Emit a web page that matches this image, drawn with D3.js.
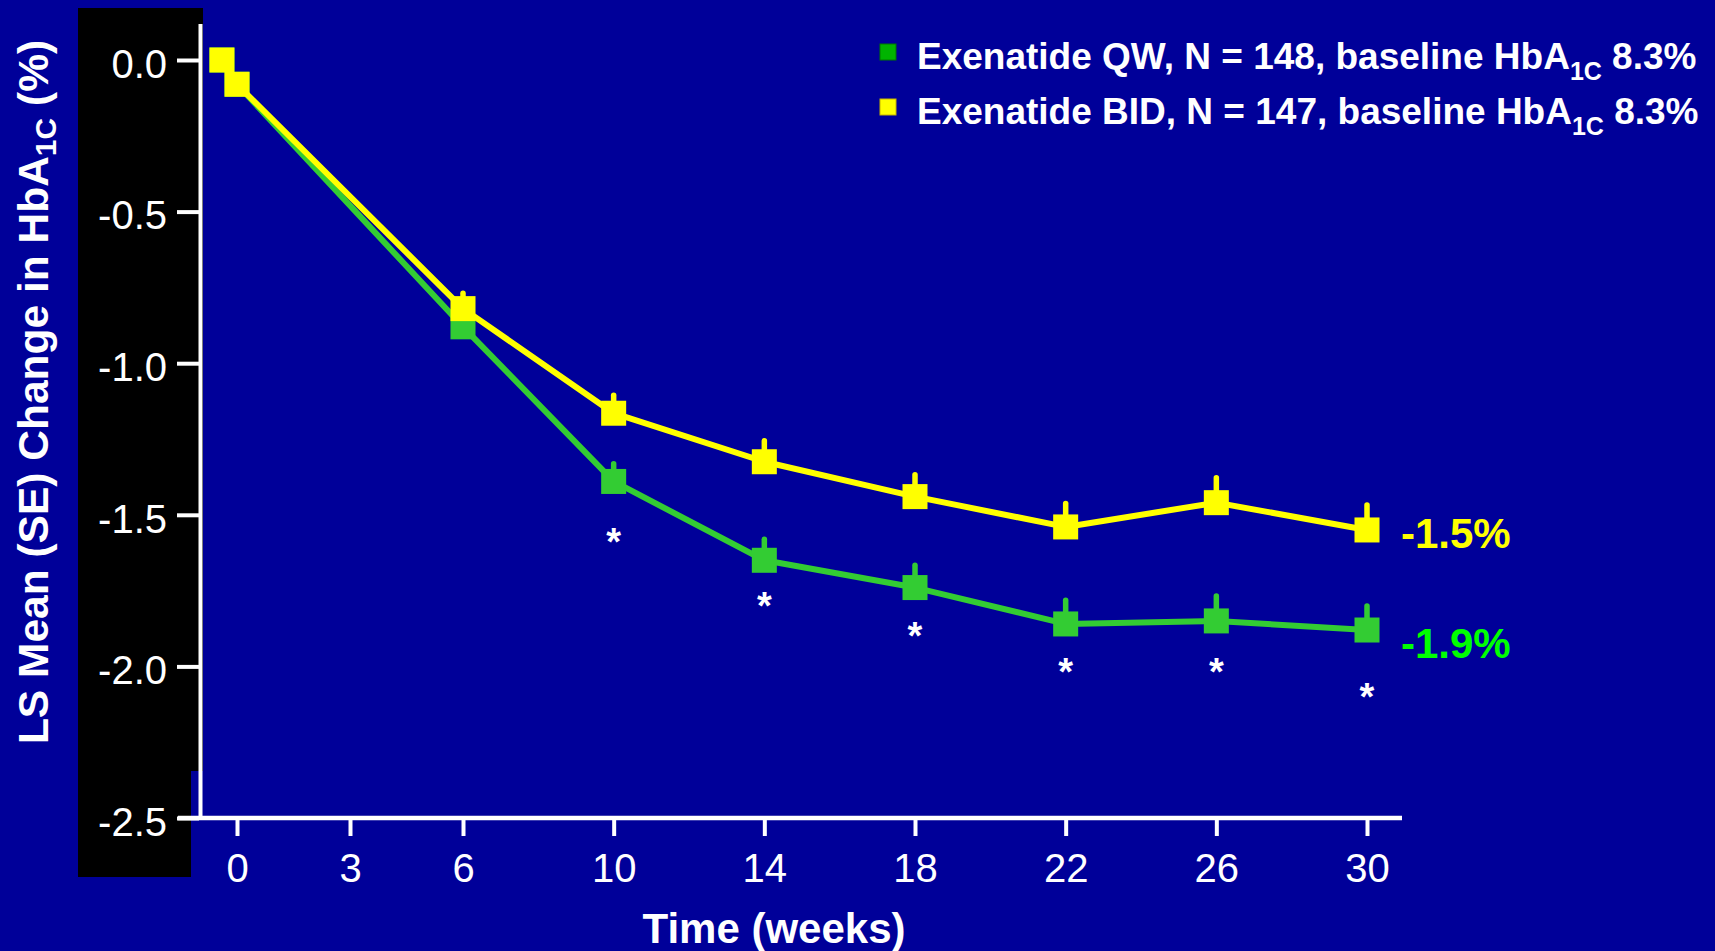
<!DOCTYPE html>
<html>
<head>
<meta charset="utf-8">
<script src="https://cdn.jsdelivr.net/npm/d3@7"></script>
<style>
  body { margin: 0; background: #000099; }
  svg text { font-family: "Liberation Sans", Arial, Helvetica, sans-serif; }
</style>
</head>
<body>
<div id="chart"></div>
<script>
// Weeks at which HbA1c was measured (first point is the baseline marker)
const weeks = [-0.4, 0, 6, 10, 14, 18, 22, 26, 30];
// Exenatide QW (green)
const qwMean = [0, -0.08, -0.88, -1.39, -1.65, -1.74, -1.86, -1.85, -1.88];
const qwSE = [0, 0, 0.05, 0.058, 0.069, 0.074, 0.078, 0.082, 0.079];
// Exenatide BID (yellow)
const bidMean = [0, -0.08, -0.82, -1.165, -1.325, -1.44, -1.54, -1.46, -1.55];
const bidSE = [0, 0, 0.051, 0.059, 0.069, 0.072, 0.077, 0.082, 0.082];
// Significance asterisks (week, level on the y scale)
const starWeeks = [10, 14, 18, 22, 26, 30];
const starLevels = [-1.56, -1.77, -1.87, -1.99, -1.99, -2.07];
// Axes
const xTicks = [0, 3, 6, 10, 14, 18, 22, 26, 30];
const yTicks = [0, -0.5, -1.0, -1.5, -2.0, -2.5];
const endLabels = ['-1.9%', '-1.5%'];
const legendNames = ['Exenatide QW, N = 148, baseline HbA', 'Exenatide BID, N = 147, baseline HbA'];

class LineChart {
    constructor(_config) {
        this.config = {
            parentElement: _config.parentElement,
            containerWidth: _config.containerWidth,
            containerHeight: _config.containerHeight,
            squareSize: 25,
        };
        this.series = [
            { mean: qwMean, se: qwSE, color: '#33cc33', legendColor: '#00b400', legendStroke: '#007800', labelColor: '#00ff00', label: endLabels[0], labelDy: 28, name: legendNames[0] },
            { mean: bidMean, se: bidSE, color: '#ffff00', legendColor: '#ffff00', legendStroke: '#c8b400', labelColor: '#ffff00', label: endLabels[1], labelDy: 18, name: legendNames[1] },
        ];
        this.initVis();
    }

    initVis() {
        let vis = this;
        vis.svg = d3.select(vis.config.parentElement).append('svg')
            .attr('width', vis.config.containerWidth)
            .attr('height', vis.config.containerHeight);

        // Background
        vis.svg.append('rect')
            .attr('width', vis.config.containerWidth)
            .attr('height', vis.config.containerHeight)
            .attr('fill', '#000099');
        // Black panel behind the y axis labels
        vis.svg.append('rect').attr('x', 78).attr('y', 8).attr('width', 125).attr('height', 763).attr('fill', '#000');
        vis.svg.append('rect').attr('x', 78).attr('y', 771).attr('width', 113).attr('height', 106).attr('fill', '#000');

        vis.xScale = d3.scaleLinear().domain([0, 30]).range([237, 1367]);
        vis.yScale = d3.scaleLinear().domain([0, -2.5]).range([60, 818]);

        vis.renderVis();
    }

    renderVis() {
        let vis = this;
        const x = vis.xScale, y = vis.yScale;

        // Y axis
        const yAxis = vis.svg.append('g')
            .attr('transform', 'translate(199,0)')
            .call(d3.axisLeft(y).tickValues(yTicks).tickSize(22).tickPadding(10).tickFormat(d => d.toFixed(1)));
        yAxis.select('.domain').remove();
        yAxis.selectAll('line').attr('stroke', '#fff').attr('stroke-width', 4);
        yAxis.selectAll('text')
            .attr('fill', '#fff')
            .attr('dy', '0.43em')
            .style('font-size', '40px');
        vis.svg.append('line')
            .attr('x1', 200.5).attr('x2', 200.5).attr('y1', 24).attr('y2', 820)
            .attr('stroke', '#fff').attr('stroke-width', 4);

        // X axis
        const xAxis = vis.svg.append('g')
            .attr('transform', 'translate(0,818)')
            .call(d3.axisBottom(x).tickValues(xTicks).tickSize(18));
        xAxis.select('.domain').remove();
        xAxis.selectAll('line').attr('stroke', '#fff').attr('stroke-width', 4);
        xAxis.selectAll('text')
            .attr('fill', '#fff')
            .attr('y', 64).attr('dy', 0)
            .style('font-size', '40px');
        vis.svg.append('line')
            .attr('x1', 178).attr('x2', 1402).attr('y1', 818).attr('y2', 818)
            .attr('stroke', '#fff').attr('stroke-width', 4.5);

        // Axis titles
        vis.svg.append('text')
            .attr('x', 774).attr('y', 943)
            .attr('text-anchor', 'middle')
            .attr('fill', '#fff')
            .style('font-size', '42px').style('font-weight', 'bold')
            .text('Time (weeks)');

        const yTitle = vis.svg.append('text')
            .attr('transform', 'translate(48,392) rotate(-90)')
            .attr('text-anchor', 'middle')
            .attr('fill', '#fff')
            .style('font-size', '42.5px').style('font-weight', 'bold');
        yTitle.append('tspan').text('LS Mean (SE) Change in HbA');
        yTitle.append('tspan').attr('dy', 8).style('font-size', '30px').text('1C');
        yTitle.append('tspan').attr('dy', -8).text(' (%)');

        // Series: line, upward SE bars, square markers
        const line = d3.line().x((d, i) => x(weeks[i])).y(d => y(d));
        const s = vis.config.squareSize;
        vis.series.forEach(ser => {
            const g = vis.svg.append('g');
            g.append('path')
                .datum(ser.mean)
                .attr('d', line)
                .attr('fill', 'none')
                .attr('stroke', ser.color)
                .attr('stroke-width', 6)
                .attr('stroke-linejoin', 'round');
            g.selectAll('.err')
                .data(ser.mean.map((m, i) => ({ w: weeks[i], m: m, se: ser.se[i] })).filter(d => d.se > 0))
                .join('line')
                .attr('class', 'err')
                .attr('x1', d => x(d.w)).attr('x2', d => x(d.w))
                .attr('y1', d => y(d.m)).attr('y2', d => y(d.m + d.se))
                .attr('stroke', ser.color)
                .attr('stroke-width', 5.5)
                .attr('stroke-linecap', 'round');
            g.selectAll('.pt')
                .data(ser.mean)
                .join('rect')
                .attr('class', 'pt')
                .attr('x', (d, i) => x(weeks[i]) - s / 2)
                .attr('y', d => y(d) - s / 2)
                .attr('width', s).attr('height', s)
                .attr('fill', ser.color);
            // End label
            const last = ser.mean.length - 1;
            g.append('text')
                .attr('x', x(weeks[last]) + 34)
                .attr('y', y(ser.mean[last]) + ser.labelDy)
                .attr('fill', ser.labelColor)
                .style('font-size', '42px').style('font-weight', 'bold')
                .text(ser.label);
        });

        // Asterisks
        vis.svg.selectAll('.star')
            .data(starWeeks)
            .join('text')
            .attr('class', 'star')
            .attr('x', d => x(d))
            .attr('y', (d, i) => y(starLevels[i]) + 22)
            .attr('text-anchor', 'middle')
            .attr('fill', '#fff')
            .style('font-size', '38px').style('font-weight', 'bold')
            .text('*');

        // Legend
        const legend = vis.svg.append('g').attr('transform', 'translate(880,44)');
        const rows = legend.selectAll('.legend-row')
            .data(vis.series)
            .join('g')
            .attr('class', 'legend-row')
            .attr('transform', (d, i) => `translate(0,${i * 55})`);
        rows.append('rect')
            .attr('width', 16).attr('height', 16)
            .attr('fill', d => d.legendColor)
            .attr('stroke', d => d.legendStroke)
            .attr('stroke-width', 1);
        const lt = rows.append('text')
            .attr('x', 37).attr('y', 25)
            .attr('fill', '#fff')
            .style('font-size', '37px').style('font-weight', 'bold');
        lt.append('tspan').text(d => d.name);
        lt.append('tspan').attr('dy', 11).style('font-size', '25px').text('1C');
        lt.append('tspan').attr('dy', -11).text(' 8.3%');
    }
}

new LineChart({ parentElement: '#chart', containerWidth: 1715, containerHeight: 951 });
</script>
</body>
</html>
